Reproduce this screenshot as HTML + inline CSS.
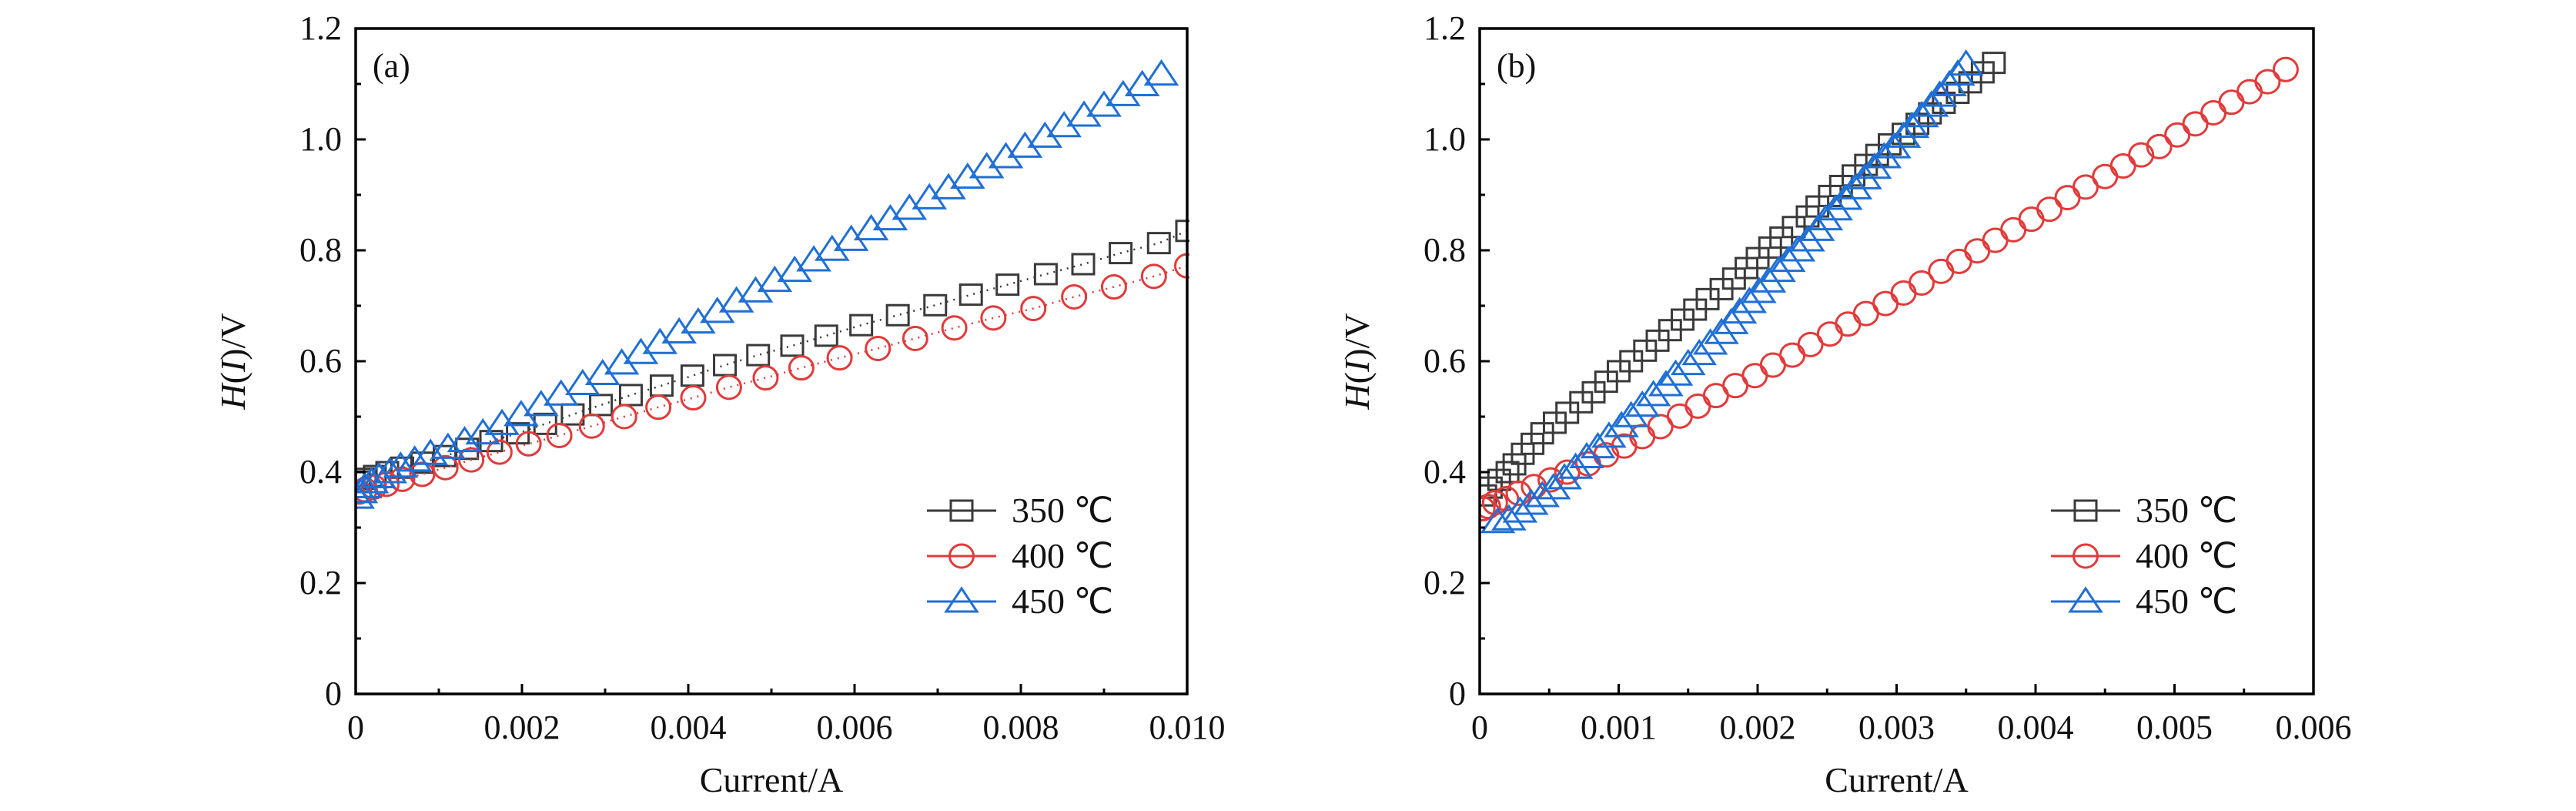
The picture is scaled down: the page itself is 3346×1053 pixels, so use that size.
<!DOCTYPE html>
<html><head><meta charset="utf-8"><style>
html,body{margin:0;padding:0;background:#fff}
svg{display:block}
text{font-family:"Liberation Serif",serif;fill:#111}
</style></head><body>
<svg id="chart" width="3346" height="1053" viewBox="0 0 3346 1053" xmlns="http://www.w3.org/2000/svg"></svg>
<script>
const yTicks=[0,0.2,0.4,0.6,0.8,1.0,1.2];
const yTickLabels=["0","0.2","0.4","0.6","0.8","1.0","1.2"];
const xTicksA=[0,0.002,0.004,0.006,0.008,0.010];
const xTickLabelsA=["0","0.002","0.004","0.006","0.008","0.010"];
const xTicksB=[0,0.001,0.002,0.003,0.004,0.005,0.006];
const xTickLabelsB=["0","0.001","0.002","0.003","0.004","0.005","0.006"];
const seriesNames=["350 ℃","400 ℃","450 ℃"];

const a350x=[0.0100,0.00966,0.00920,0.00875,0.00830,0.00784,0.00740,0.00697,0.00652,0.00608,0.00566,0.00525,0.00484,0.00444,0.00405,0.00368,0.00331,0.00295,0.00261,0.00228,0.00195,0.00163,0.00134,0.00107,0.00080,0.00056,0.00038,0.00023,0.00011,0.00004];
const a350y=[0.835,0.813,0.795,0.775,0.757,0.738,0.720,0.701,0.683,0.665,0.646,0.628,0.611,0.593,0.574,0.556,0.539,0.521,0.504,0.487,0.470,0.456,0.442,0.429,0.417,0.408,0.400,0.393,0.388,0.383];
const a400x=[0.0100,0.00960,0.00912,0.00864,0.00815,0.00767,0.00720,0.00673,0.00628,0.00582,0.00536,0.00493,0.00449,0.00406,0.00364,0.00323,0.00284,0.00245,0.00208,0.00173,0.00139,0.00108,0.00080,0.00056,0.00037,0.00022,0.00011,0.00004];
const a400y=[0.772,0.753,0.734,0.716,0.695,0.678,0.660,0.641,0.623,0.606,0.588,0.570,0.553,0.534,0.517,0.500,0.483,0.466,0.451,0.436,0.422,0.408,0.396,0.387,0.378,0.373,0.368,0.364];
const a450x=[0.00969,0.00946,0.00923,0.00900,0.00876,0.00852,0.00829,0.00805,0.00782,0.00759,0.00736,0.00713,0.00690,0.00666,0.00643,0.00620,0.00596,0.00573,0.00551,0.00528,0.00504,0.00481,0.00458,0.00435,0.00412,0.00389,0.00366,0.00343,0.00320,0.00297,0.00273,0.00247,0.00223,0.00199,0.00176,0.00153,0.00131,0.00111,0.00090,0.00071,0.00054,0.00041,0.00028,0.00019,0.00011,0.00006,0.00002];
const a450y=[1.117,1.098,1.080,1.061,1.043,1.024,1.005,0.987,0.968,0.950,0.931,0.912,0.894,0.875,0.856,0.838,0.819,0.801,0.782,0.763,0.745,0.726,0.708,0.689,0.670,0.652,0.633,0.615,0.596,0.577,0.559,0.540,0.521,0.503,0.487,0.470,0.456,0.444,0.433,0.421,0.410,0.400,0.391,0.382,0.373,0.364,0.354];

const b350x=[0.00370,0.00362,0.00353,0.00344,0.00334,0.00324,0.00315,0.00305,0.00295,0.00286,0.00278,0.00269,0.00260,0.00252,0.00243,0.00236,0.00226,0.00217,0.00209,0.00200,0.00192,0.00183,0.00174,0.00164,0.00155,0.00146,0.00137,0.00128,0.00119,0.00109,0.00100,0.00091,0.00082,0.00073,0.00063,0.00054,0.00045,0.00038,0.00031,0.00025,0.00020,0.00014,0.00008,0.00004];
const b350y=[1.138,1.121,1.103,1.084,1.066,1.047,1.028,1.010,0.991,0.972,0.954,0.935,0.916,0.898,0.879,0.861,0.842,0.823,0.805,0.786,0.768,0.749,0.730,0.712,0.693,0.675,0.656,0.637,0.619,0.600,0.582,0.563,0.544,0.526,0.507,0.489,0.470,0.451,0.433,0.414,0.400,0.386,0.372,0.358];
const b400x=[0.00580,0.00567,0.00554,0.00541,0.00528,0.00515,0.00502,0.00489,0.00476,0.00463,0.00450,0.00436,0.00423,0.00410,0.00397,0.00384,0.00371,0.00358,0.00345,0.00332,0.00318,0.00305,0.00292,0.00278,0.00265,0.00252,0.00238,0.00225,0.00211,0.00198,0.00184,0.00170,0.00157,0.00144,0.00130,0.00117,0.00104,0.00091,0.00078,0.00063,0.00051,0.00039,0.00028,0.00019,0.00011,0.00006,0.00002];
const b400y=[1.126,1.104,1.086,1.067,1.048,1.028,1.008,0.987,0.972,0.952,0.933,0.914,0.895,0.874,0.856,0.837,0.818,0.799,0.780,0.762,0.741,0.723,0.704,0.686,0.667,0.649,0.630,0.611,0.593,0.574,0.556,0.538,0.519,0.501,0.482,0.464,0.447,0.431,0.415,0.400,0.386,0.374,0.362,0.352,0.345,0.338,0.334];
const b450x=[0.00350,0.00344,0.00338,0.00331,0.00325,0.00318,0.00311,0.00305,0.00298,0.00291,0.00284,0.00277,0.00270,0.00263,0.00256,0.00249,0.00243,0.00236,0.00229,0.00222,0.00215,0.00208,0.00201,0.00194,0.00187,0.00181,0.00174,0.00166,0.00158,0.00150,0.00141,0.00134,0.00125,0.00117,0.00109,0.00102,0.00093,0.00085,0.00077,0.00069,0.00061,0.00053,0.00045,0.00037,0.00029,0.00021,0.00013];
const b450y=[1.135,1.117,1.098,1.079,1.061,1.042,1.023,1.005,0.986,0.968,0.949,0.930,0.912,0.893,0.874,0.856,0.837,0.818,0.800,0.781,0.763,0.744,0.725,0.707,0.688,0.669,0.651,0.632,0.613,0.595,0.576,0.557,0.539,0.520,0.501,0.483,0.464,0.445,0.427,0.408,0.389,0.371,0.357,0.343,0.329,0.315,0.310];

const NS="http://www.w3.org/2000/svg";
const svg=document.getElementById('chart');
const COLORS=["#3a3a3a","#e23a3a","#1f6fd6"];
function mk(tag,attrs,parent){const e=document.createElementNS(NS,tag);for(const k in attrs)e.setAttribute(k,attrs[k]);(parent||svg).appendChild(e);return e;}

function marker(g,type,cx,cy,color){
  let e;
  if(type===0){e=mk('rect',{x:cx-14,y:cy-13,width:28,height:26,fill:'none',stroke:color,'stroke-width':3},g);}
  else if(type===1){e=mk('ellipse',{cx:cx,cy:cy,rx:15.5,ry:15,fill:'none',stroke:color,'stroke-width':3},g);}
  else {e=mk('polygon',{points:`${cx-20},${cy+13} ${cx+20},${cy+13} ${cx},${cy-17}`,fill:'none',stroke:color,'stroke-width':3,'stroke-linejoin':'miter'},g);}
  return e;
}

function panel(id,left,right,top,bottom,xmax,xTicks,xLabels,minorStep,series,label,showLine){
  const pg=mk('g',{});
  
  
  const X=v=>left+(v/xmax)*(right-left);
  const Y=v=>bottom-(v/1.2)*(bottom-top);
  const clipId='clip'+id;
  const cp=mk('clipPath',{id:clipId},pg);
  mk('rect',{x:left,y:top-30,width:right-left+3,height:bottom-top+30},cp);
  // series
  series.forEach((s,i)=>{
    const sg=mk('g',{'clip-path':`url(#${clipId})`},pg);
    
    
    if(showLine[i]){
      const pts=s.x.map((v,k)=>X(v)+','+Y(s.y[k])).join(' ');
      const pl=mk('polyline',{points:pts,fill:'none',stroke:COLORS[i],'stroke-width':2.5,'stroke-dasharray':'2,7'},sg);
      
      
    }
    s.x.forEach((v,k)=>{
      const m=marker(sg,i,X(v),Y(s.y[k]),COLORS[i]);
      
      
    });
  });
  // frame
  const fr=mk('rect',{x:left,y:top,width:right-left,height:bottom-top,fill:'none',stroke:'#000','stroke-width':3.5},pg);
  
  
  // y ticks
  yTicks.forEach((v,k)=>{
    mk('line',{x1:left,x2:left+13,y1:Y(v),y2:Y(v),stroke:'#000','stroke-width':3},pg);
    if(k<yTicks.length-1){const mv=v+0.1;mk('line',{x1:left,x2:left+7,y1:Y(mv),y2:Y(mv),stroke:'#000','stroke-width':3},pg);}
    const t=mk('text',{x:left-18,y:Y(v)+14,'text-anchor':'end','font-size':44},pg);
    t.textContent=yTickLabels[k];
    
    
  });
  // x ticks
  xTicks.forEach((v,k)=>{
    mk('line',{x1:X(v),x2:X(v),y1:bottom,y2:bottom-13,stroke:'#000','stroke-width':3},pg);
    if(k<xTicks.length-1){const mv=v+minorStep;mk('line',{x1:X(mv),x2:X(mv),y1:bottom,y2:bottom-7,stroke:'#000','stroke-width':3},pg);}
    const t=mk('text',{x:X(v),y:bottom+58,'text-anchor':'middle','font-size':44},pg);
    t.textContent=xLabels[k];
    
    
  });
  const xt=mk('text',{x:(left+right)/2,y:1028,'text-anchor':'middle','font-size':46},pg);
  xt.textContent='Current/A';
  
  
  const yt=mk('text',{x:0,y:0,'text-anchor':'middle','font-size':46,transform:`translate(${left-144},${(top+bottom)/2}) rotate(-90)`},pg);
  yt.innerHTML='<tspan font-style="italic">H</tspan>(<tspan font-style="italic">I</tspan>)/V';
  
  
  const pl=mk('text',{x:left+22,y:100,'font-size':44},pg);
  pl.textContent=label;
  
  
  // legend
  const lg=mk('g',{},pg);
  
  
  const lx=left+742, rows=[663,722,781];
  seriesNames.forEach((n,i)=>{
    const eg=mk('g',{},lg);
    
    
    mk('line',{x1:lx,x2:lx+90,y1:rows[i],y2:rows[i],stroke:COLORS[i],'stroke-width':3},eg);
    marker(eg,i,lx+45,rows[i],COLORS[i]);
    const t=mk('text',{x:lx+110,y:rows[i]+15,'font-size':46},eg);
    t.textContent=n;
  });
}

panel('a',462,1542,37,901,0.010,xTicksA,xTickLabelsA,0.001,
  [{name:'350',x:a350x,y:a350y},{name:'400',x:a400x,y:a400y},{name:'450',x:a450x,y:a450y}],'(a)',[true,true,false]);
panel('b',1922,3005,37,901,0.006,xTicksB,xTickLabelsB,0.0005,
  [{name:'350',x:b350x,y:b350y},{name:'400',x:b400x,y:b400y},{name:'450',x:b450x,y:b450y}],'(b)',[false,false,false]);
</script>
</body></html>
